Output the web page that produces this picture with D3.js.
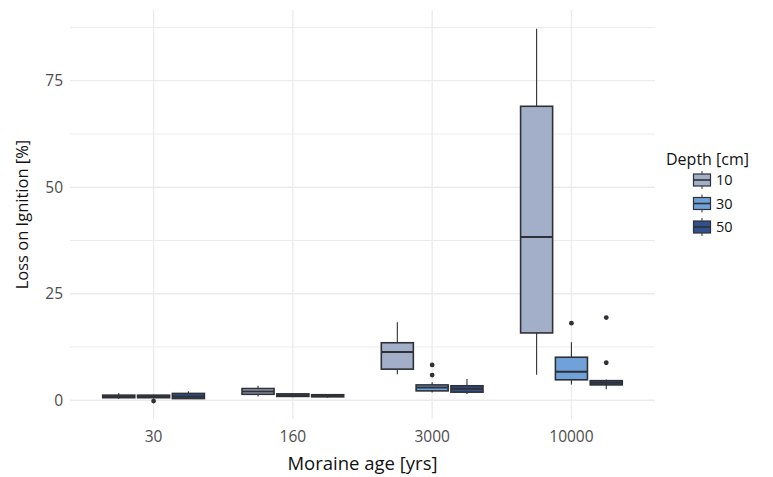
<!DOCTYPE html>
<html><head><meta charset="utf-8">
<script src="https://cdn.jsdelivr.net/npm/d3@7"></script>
<style>body{margin:0;background:#fff}svg{display:block;font-family:"Open Sans",sans-serif}</style>
</head><body><svg id="c" width="773" height="477"></svg>
<script>
// Data
const categories = ["30", "160", "3000", "10000"];
const depths = ["10", "30", "50"];
const colors = ["#a3afc9", "#71a1d9", "#34508a"];
// [category][depth]
const whiskerLow = [[0.3, 0.4, 0.3], [0.9, 0.7, 0.6], [6.1, 1.8, 1.45], [6.0, 3.7, 2.6]];
const q1 = [[0.6, 0.6, 0.4], [1.4, 0.9, 0.8], [7.3, 2.2, 1.9], [15.8, 4.8, 3.6]];
const median = [[0.9, 0.85, 0.9], [2.05, 1.2, 1.0], [11.35, 3.0, 2.7], [38.3, 6.7, 4.1]];
const q3 = [[1.2, 1.2, 1.6], [2.75, 1.5, 1.3], [13.5, 3.6, 3.4], [69.0, 10.1, 4.6]];
const whiskerHigh = [[1.7, 1.3, 2.1], [3.4, 1.6, 1.4], [18.3, 4.2, 5.0], [87.2, 13.6, 4.9]];
const outliers = [[[], [-0.2], []], [[], [], []], [[], [5.9, 8.3], []], [[], [18.1], [8.8, 19.4]]];
const yTicks = [0, 25, 50, 75];
const yMinor = [12.5, 37.5, 62.5, 87.5];

const svg = d3.select("#c");
const L = 70, R = 655, T = 10, B = 419;
const x = d3.scaleBand().domain(categories).range([L, R]).paddingOuter(0.1).paddingInner(0);
const y = d3.scaleLinear().domain([-4.4, 91.6]).range([B, T]);
const dodge = d3.scaleBand().domain(depths).range([-x.bandwidth() * 0.375, x.bandwidth() * 0.375]);
const boxW = dodge.bandwidth() * 0.92;
const grid = "#ebebeb";
const stroke = "#2e3136";

// grid
const g = svg.append("g");
g.selectAll(".ymin").data(yMinor.filter(v => y(v) >= T)).join("line")
  .attr("x1", L).attr("x2", R).attr("y1", d => y(d)).attr("y2", d => y(d))
  .attr("stroke", grid).attr("stroke-width", 1);
g.selectAll(".ymaj").data(yTicks).join("line")
  .attr("x1", L).attr("x2", R).attr("y1", d => y(d)).attr("y2", d => y(d))
  .attr("stroke", grid).attr("stroke-width", 1.3);
g.selectAll(".xg").data(categories).join("line")
  .attr("x1", d => x(d) + x.bandwidth() / 2).attr("x2", d => x(d) + x.bandwidth() / 2)
  .attr("y1", T).attr("y2", B).attr("stroke", grid).attr("stroke-width", 1.3);

// axes
const yAxis = svg.append("g").attr("transform", `translate(${L},0)`)
  .call(d3.axisLeft(y).tickValues(yTicks).tickSize(0).tickPadding(7));
yAxis.select(".domain").remove();
yAxis.selectAll("text").attr("font-size", 15.5).attr("fill", "#4d4d4d").attr("font-family", "Open Sans");
const xAxis = svg.append("g").attr("transform", `translate(0,${B})`)
  .call(d3.axisBottom(x).tickSize(0).tickPadding(12));
xAxis.select(".domain").remove();
xAxis.selectAll("text").attr("font-size", 15.5).attr("fill", "#4d4d4d").attr("font-family", "Open Sans");

// boxes
categories.forEach((cat, ci) => {
  depths.forEach((dp, di) => {
    const cx = x(cat) + x.bandwidth() / 2 + dodge(dp) + dodge.bandwidth() / 2;
    const bg = svg.append("g");
    bg.append("line").attr("x1", cx).attr("x2", cx)
      .attr("y1", y(whiskerLow[ci][di])).attr("y2", y(q1[ci][di]))
      .attr("stroke", stroke).attr("stroke-width", 1.1);
    bg.append("line").attr("x1", cx).attr("x2", cx)
      .attr("y1", y(q3[ci][di])).attr("y2", y(whiskerHigh[ci][di]))
      .attr("stroke", stroke).attr("stroke-width", 1.1);
    bg.append("rect").attr("x", cx - boxW / 2).attr("width", boxW)
      .attr("y", y(q3[ci][di])).attr("height", Math.max(0.5, y(q1[ci][di]) - y(q3[ci][di])))
      .attr("fill", colors[di]).attr("stroke", stroke).attr("stroke-width", 1.6);
    bg.append("line").attr("x1", cx - boxW / 2).attr("x2", cx + boxW / 2)
      .attr("y1", y(median[ci][di])).attr("y2", y(median[ci][di]))
      .attr("stroke", stroke).attr("stroke-width", 2);
    bg.selectAll("circle").data(outliers[ci][di]).join("circle")
      .attr("cx", cx).attr("cy", d => y(d)).attr("r", 2.4).attr("fill", stroke);
  });
});

// axis titles
svg.append("text").attr("x", (L + R) / 2).attr("y", 470).attr("text-anchor", "middle")
  .attr("font-size", 18.5).attr("fill", "#111").text("Moraine age [yrs]");
svg.append("text").attr("transform", `translate(28,${(T + B) / 2}) rotate(-90)`)
  .attr("text-anchor", "middle").attr("font-size", 16.5).attr("fill", "#111").text("Loss on Ignition [%]");

// legend
const lg = svg.append("g").attr("transform", "translate(666,0)");
lg.append("text").attr("x", 0).attr("y", 165).attr("font-size", 16).attr("fill", "#111").text("Depth [cm]");
const keyY = d3.scalePoint().domain(depths).range([180, 227]);
depths.forEach((dp, di) => {
  const cy = keyY(dp), kx = 36;
  lg.append("line").attr("x1", kx).attr("x2", kx).attr("y1", cy - 9).attr("y2", cy + 9)
    .attr("stroke", stroke).attr("stroke-width", 1);
  lg.append("rect").attr("x", kx - 8.5).attr("y", cy - 6).attr("width", 17).attr("height", 12)
    .attr("fill", colors[di]).attr("stroke", stroke).attr("stroke-width", 1.2);
  lg.append("line").attr("x1", kx - 8.5).attr("x2", kx + 8.5).attr("y1", cy).attr("y2", cy)
    .attr("stroke", stroke).attr("stroke-width", 1.6);
  lg.append("text").attr("x", 50).attr("y", cy + 5).attr("font-size", 14.5).attr("fill", "#111").text(dp);
});
</script></body></html>
